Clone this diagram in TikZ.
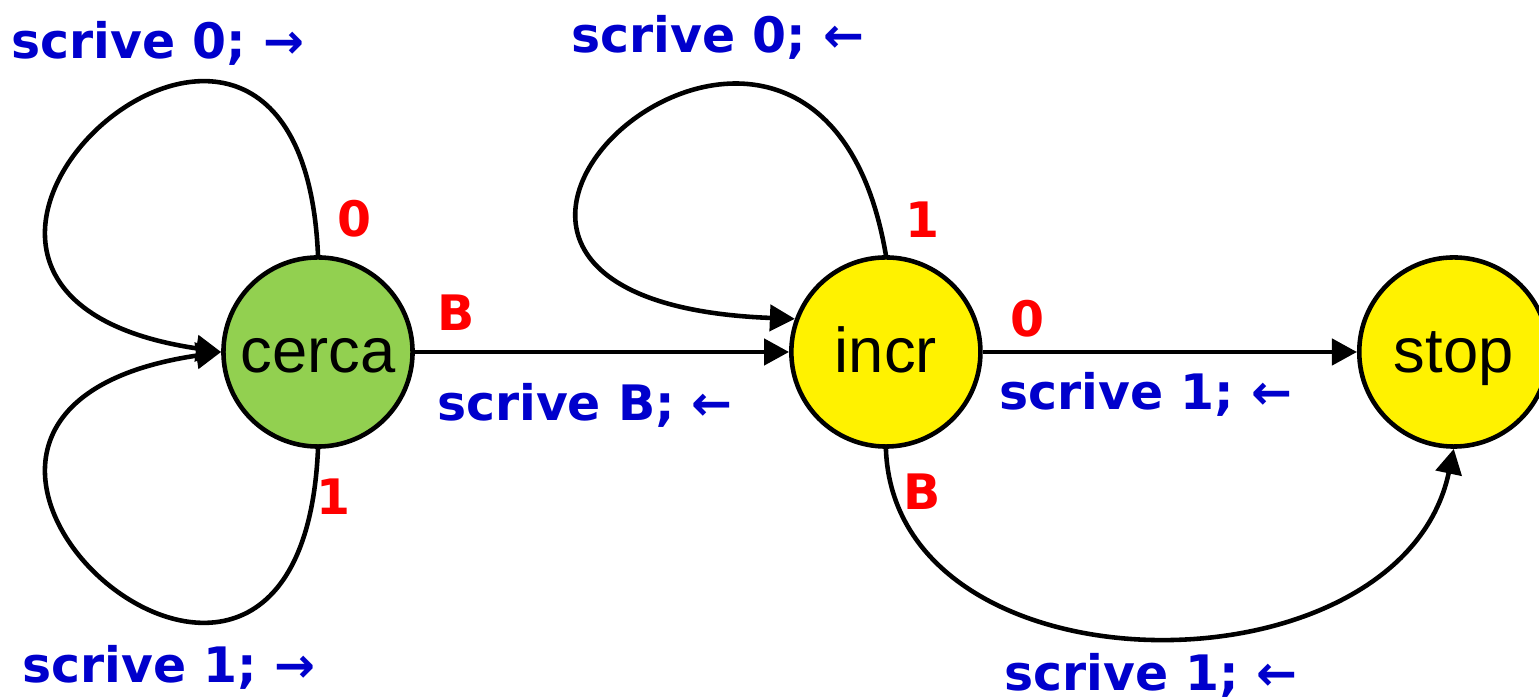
\documentclass[tikz,border=0pt]{standalone}
\usepackage{fontspec}
\setmainfont{Liberation Sans}
\newfontfamily\lblfont{DejaVu Sans}
\usepackage{xcolor}
\usetikzlibrary{arrows.meta,positioning}
\definecolor{cercagreen}{HTML}{92D050}
\definecolor{lblblue}{HTML}{0000CC}

\begin{document}
\begin{tikzpicture}[
      x=0.01cm, y=-0.01cm,
      node distance=3.74cm,
      state/.style={draw, circle, line width=1.3pt, minimum size=1.89cm, inner sep=0pt, text height=0.5cm, text depth=0.1cm, font=\fontsize{18}{20}\selectfont},
      arr/.style={-{Triangle[length=0.25cm, width=0.26cm]}, line width=1.3pt},
      act/.style={anchor=base, inner sep=0pt, text=lblblue, font=\lblfont\bfseries\fontsize{13.9}{16}\selectfont},
      sym/.style={anchor=base, inner sep=0pt, text=red, font=\lblfont\bfseries\fontsize{13.9}{16}\selectfont}
    ]
      \useasboundingbox (0,0) rectangle (1539,698);
      \node[state, fill=cercagreen] (cerca) at (318,352) {cerca};
      \node[state, fill=yellow, right=of cerca] (incr) {incr};
      \node[state, fill=yellow, right=of incr] (stop) {stop};
      \draw[arr] (cerca.north) .. controls +(-18,-415) and +(-420,-62) .. (cerca.west);
      \draw[arr] (cerca.south) .. controls +(-18,415) and +(-420,62) .. (cerca.west);
      \draw[arr] (cerca) -- (incr);
      \draw[arr] (incr.north) .. controls +(-70,-412) and +(-494,-19) .. (incr.160);
      \draw[arr] (incr) -- (stop);
      \draw[arr] (incr.south) .. controls +(9,251) and +(-53,251) .. (stop.south);
      \node[act] (w0a) at (158,59) {scrive 0; →};
      \node[sym] (r0a) at (355,237) {0};
      \node[sym] (r1a) at (334,515) {1};
      \node[act] (w1a) at (169,683) {scrive 1; →};
      \node[sym] (rBa) at (456,331) {B};
      \node[act] (wBa) at (585,421) {scrive B; ←};
      \node[act] (w0b) at (718,53) {scrive 0; ←};
      \node[sym] (r1b) at (922,238) {1};
      \node[sym] (r0b) at (1027,337) {0};
      \node[act] (w1b) at (1146,410) {scrive 1; ←};
      \node[sym] (rBb) at (922,510) {B};
      \node[act] (w1c) at (1151,691) {scrive 1; ←};
    \end{tikzpicture}
\end{document}
